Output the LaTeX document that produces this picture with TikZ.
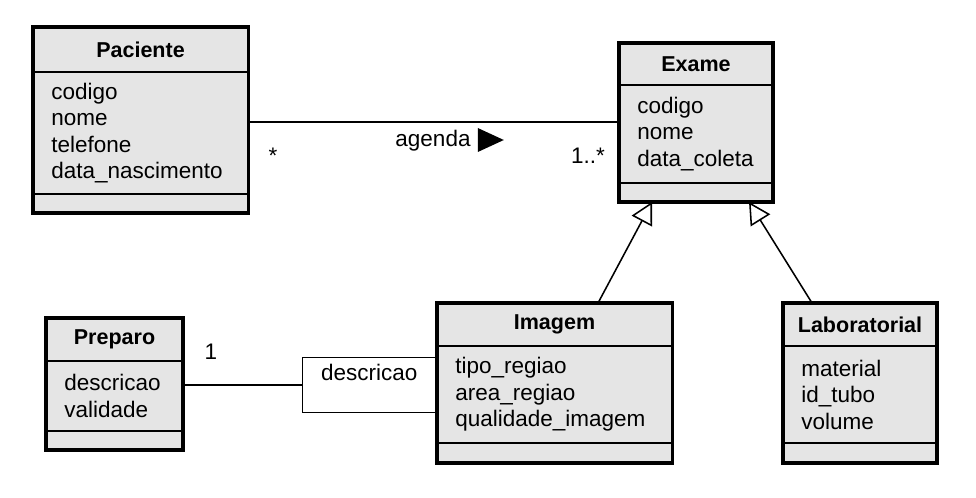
\documentclass[tikz,border=0pt]{standalone}
\usepackage{fontspec}
\setmainfont{Liberation Sans}
\usetikzlibrary{positioning, arrows.meta}
\definecolor{classgray}{RGB}{229,229,229}

\begin{document}
\begin{tikzpicture}[x=0.025cm, y=-0.025cm,
        box/.style={draw, line width=0.9pt, fill=classgray, inner sep=0pt, outer sep=0pt},
        classname/.style={box, text width=#1, align=center, font=\fontsize{15.3}{18}\bfseries},
        attrs/.style={box, text width=#1, align=left, inner xsep=0.46cm, font=\fontsize{16}{18.8}\selectfont},
        ops/.style={box, text width=#1},
        classframe/.style={draw, line width=2.2pt},
        lbl/.style={inner sep=0pt, anchor=base, font=\fontsize{16}{18.8}\selectfont},
        assoc/.style={line width=1.1pt},
        gen/.style={line width=1.1pt, -{Triangle[open, length=0.54cm, width=0.57cm]}}]

        \useasboundingbox (0,0) rectangle (976,498);

        \node[classname=5.375cm, minimum height=1.125cm, anchor=north west] (pac) at (33,27) {Paciente};
        \node[attrs=4.455cm, minimum height=3.05cm, below=0pt of pac] (pacattr) {codigo\\nome\\telefone\\data\_nascimento};
        \node[ops=5.375cm, minimum height=0.475cm, below=0pt of pacattr] (pacops) {};
        \draw[classframe] (pac.north west) rectangle (pacops.south east);

        \node[classname=3.85cm, minimum height=1.05cm, anchor=north west] (exa) at (619,43) {Exame};
        \node[attrs=2.93cm, minimum height=2.45cm, below=0pt of exa] (exaattr) {codigo\\nome\\data\_coleta};
        \node[ops=3.85cm, minimum height=0.475cm, below=0pt of exaattr] (exaops) {};
        \draw[classframe] (exa.north west) rectangle (exaops.south east);

        \node[classname=5.875cm, minimum height=1.075cm, anchor=north west] (img) at (437,303) {Imagem};
        \node[attrs=4.955cm, minimum height=2.425cm, below=0pt of img] (imgattr) {tipo\_regiao\\area\_regiao\\qualidade\_imagem};
        \node[ops=5.875cm, minimum height=0.5cm, below=0pt of imgattr] (imgops) {};

        \node[classname=3.85cm, minimum height=1.075cm, anchor=north west] (lab) at (783,303) {Laboratorial};
        \node[attrs=2.93cm, minimum height=2.425cm, below=0pt of lab] (labattr) {material\\id\_tubo\\volume};
        \node[ops=3.85cm, minimum height=0.5cm, below=0pt of labattr] (labops) {};
        \draw[classframe] (lab.north west) rectangle (labops.south east);

        \node[classname=3.425cm, minimum height=1.075cm, anchor=north west] (prep) at (46,318) {Preparo};
        \node[attrs=2.505cm, minimum height=1.75cm, below=0pt of prep] (prepattr) {descricao\\validade};
        \node[ops=3.425cm, minimum height=0.475cm, below=0pt of prepattr] (prepops) {};
        \draw[classframe] (prep.north west) rectangle (prepops.south east);

        \node[draw, line width=0.9pt, fill=white, inner sep=0pt, minimum width=3.35cm,
              text height=0.575cm, text depth=0.8cm, anchor=north east,
              font=\fontsize{16}{18.8}\selectfont] (qual) at (437,357) {descricao};
        \draw[classframe] (img.north west) rectangle (imgops.south east);

        \coordinate (agendaline) at (0,122);
        \draw[assoc] (pacattr.east |- agendaline) -- (exaattr.west |- agendaline);
        \node[lbl] (agenda) at (433,147) {agenda};
        \fill (agenda.base east) ++(7,-19) -- ++(0,24) -- ++(26,-12) -- cycle;
        \node[lbl] (multpac) at (273,164) {*};
        \node[lbl] (multexa) at (588,164) {1..*};

        \draw[gen] ([xshift=1.0875cm]img.north) -- ([xshift=-1.1cm]exaops.south);
        \draw[gen] ([xshift=-1.2cm]lab.north) -- ([xshift=1.325cm]exaops.south);

        \draw[assoc] (prepattr.east |- qual.west) -- (qual.west);
        \node[lbl] (multprep) at (211,360) {1};
\end{tikzpicture}
\end{document}
